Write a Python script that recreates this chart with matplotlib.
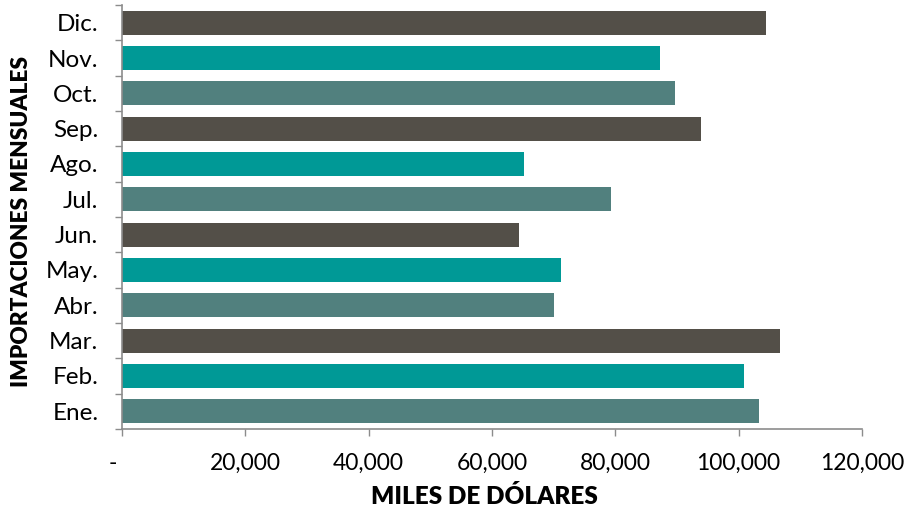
import matplotlib
matplotlib.use("Agg")
import matplotlib.pyplot as plt
import numpy as np
from matplotlib.ticker import FuncFormatter

months = ['Ene.', 'Feb.', 'Mar.', 'Abr.', 'May.', 'Jun.',
          'Jul.', 'Ago.', 'Sep.', 'Oct.', 'Nov.', 'Dic.']
imports = [103300, 100900, 106700, 70000, 71200, 64400,
           79300, 65200, 93900, 89700, 87200, 104400]
palette = ['#51807e', '#009996', '#534f48']

plt.rcParams['font.family'] = ['Lato', 'DejaVu Sans']

fig = plt.figure(figsize=(9.07, 5.14), dpi=100)
ax = fig.add_axes([122 / 907, 85 / 514, 740 / 907, 424 / 514])

pos = np.arange(len(months))
cols = [palette[i % 3] for i in range(len(months))]
ax.barh(pos, imports, height=0.68, color=cols)

ax.set_xlim(0, 120000)
ax.set_ylim(-0.5, len(months) - 0.5)

# y ticks at category boundaries, labels at centres
ax.set_yticks(np.arange(-0.5, len(months), 1))
ax.set_yticklabels([])
ax.set_yticks(pos, minor=True)
ax.set_yticklabels(months, minor=True, fontsize=17.5)
ax.tick_params(axis='y', which='minor', length=0, pad=17)
ax.tick_params(axis='y', which='major', length=5, color='#8c8c8c', width=1)

ax.set_xticks(np.arange(0, 120001, 20000))
ax.xaxis.set_major_formatter(FuncFormatter(lambda v, p: '-   ' if v == 0 else f'{v:,.0f}'))
ax.tick_params(axis='x', length=5, color='#8c8c8c', width=1, labelsize=16.5, pad=12)

for s in ['top', 'right']:
    ax.spines[s].set_visible(False)
for s in ['left', 'bottom']:
    ax.spines[s].set_color('#8c8c8c')
    ax.spines[s].set_linewidth(1.2)

ax.set_xlabel('MILES DE DÓLARES', fontsize=17.5, fontweight='heavy')
ax.xaxis.set_label_coords(0.49, -0.132)
ax.set_ylabel('IMPORTACIONES MENSUALES', fontsize=16.3, fontweight='heavy')
ax.yaxis.set_label_coords(-0.121, 0.49)

fig.savefig('out.png', dpi=100)
